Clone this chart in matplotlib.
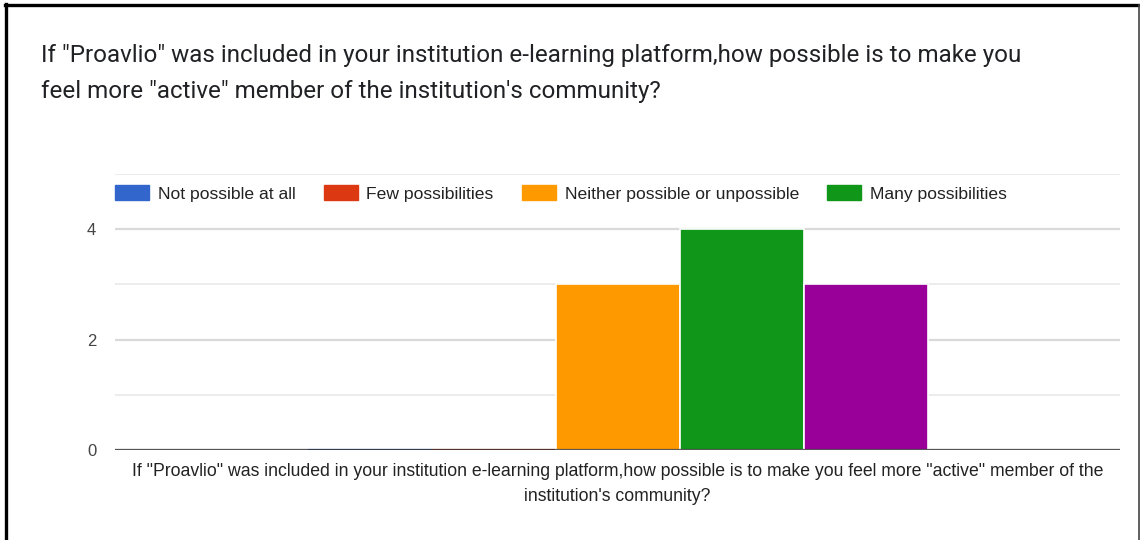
import matplotlib
matplotlib.use("Agg")
import matplotlib.pyplot as plt
from matplotlib.patches import Patch
from matplotlib.lines import Line2D

# Survey responses for a single question
question = ('If "Proavlio" was included in your institution e-learning platform,'
            'how possible is to make you feel more "active" member of the\n'
            "institution's community?")
title = ('If "Proavlio" was included in your institution e-learning platform,how possible is to make you\n'
         'feel more "active" member of the institution\'s community?')
series = ["Not possible at all", "Few possibilities", "Neither possible or unpossible",
          "Many possibilities", "Totally possible"]
counts = [0, 0, 3, 4, 3]
colors = ["#3366cc", "#dc3912", "#ff9900", "#109618", "#990099"]
legend_count = 4
y_ticks = [0, 2, 4]

W, H = 1140, 540
fig = plt.figure(figsize=(W / 100, H / 100), dpi=100)
fig.patch.set_facecolor("white")

ax = fig.add_axes([115 / W, 1 - 450 / H, (1120 - 115) / W, (450 - 174) / H])

n = len(counts)
positions = [i - (n - 1) / 2 for i in range(n)]
half_span = (1120 - 115) / 124 / 2
for pos, val, col in zip(positions, counts, colors):
    if val == 0:
        ax.bar(pos, val, width=1.0, color=col, edgecolor=col, linewidth=1.5, zorder=2)
    else:
        ax.bar(pos, val, width=1.0, color=col, edgecolor="white", linewidth=1.2, zorder=2)

ax.set_xlim(-half_span, half_span)
ax.set_ylim(0, 5)
ax.set_yticks(y_ticks)
ax.set_yticks([1, 3, 5], minor=True)
ax.grid(axis="y", which="major", color="#dadada", linewidth=1.6, zorder=0)
ax.grid(axis="y", which="minor", color="#ececec", linewidth=1.4, zorder=0)
ax.set_axisbelow(True)
ax.axhline(0, color="#333333", linewidth=1.6, alpha=0.8, zorder=3)
for s in ax.spines.values():
    s.set_visible(False)
ax.set_xticks([])
ax.tick_params(axis="y", which="both", length=0, pad=13.5, labelsize=12,
               labelcolor="#444444")
for lbl in ax.get_yticklabels():
    lbl.set_fontfamily("Liberation Sans")

ax.set_xlabel(question, fontsize=12.7, family="Liberation Sans", color="#222222",
              linespacing=1.58, labelpad=9.5)

handles = [Patch(facecolor=c, edgecolor=c) for c in colors[:legend_count]]
leg = fig.legend(handles, series[:legend_count], loc="center left",
                 bbox_to_anchor=(115 / W, 1 - 193.5 / H), ncol=legend_count,
                 frameon=False, borderpad=0, borderaxespad=0,
                 handlelength=1.94, handleheight=0.97, handletextpad=0.51,
                 columnspacing=1.6, prop={"family": "Liberation Sans", "size": 12.6})
for t in leg.get_texts():
    t.set_color("#222222")

fig.text(41 / W, 1 - 44 / H, title, ha="left", va="top", fontsize=17.4,
         family="Roboto", color="#202124", linespacing=1.7)

# Card frame
fig.add_artist(Line2D([6 / W, 6 / W], [0, 1 - 4 / H], transform=fig.transFigure,
                      color="black", linewidth=2.4))
fig.add_artist(Line2D([5 / W, 1], [1 - 5 / H, 1 - 5 / H], transform=fig.transFigure,
                      color="black", linewidth=2.4))
fig.add_artist(Line2D([1138.5 / W, 1138.5 / W], [0, 1 - 5 / H], transform=fig.transFigure,
                      color="#444444", linewidth=1.2))

fig.savefig("out.png", dpi=100)
